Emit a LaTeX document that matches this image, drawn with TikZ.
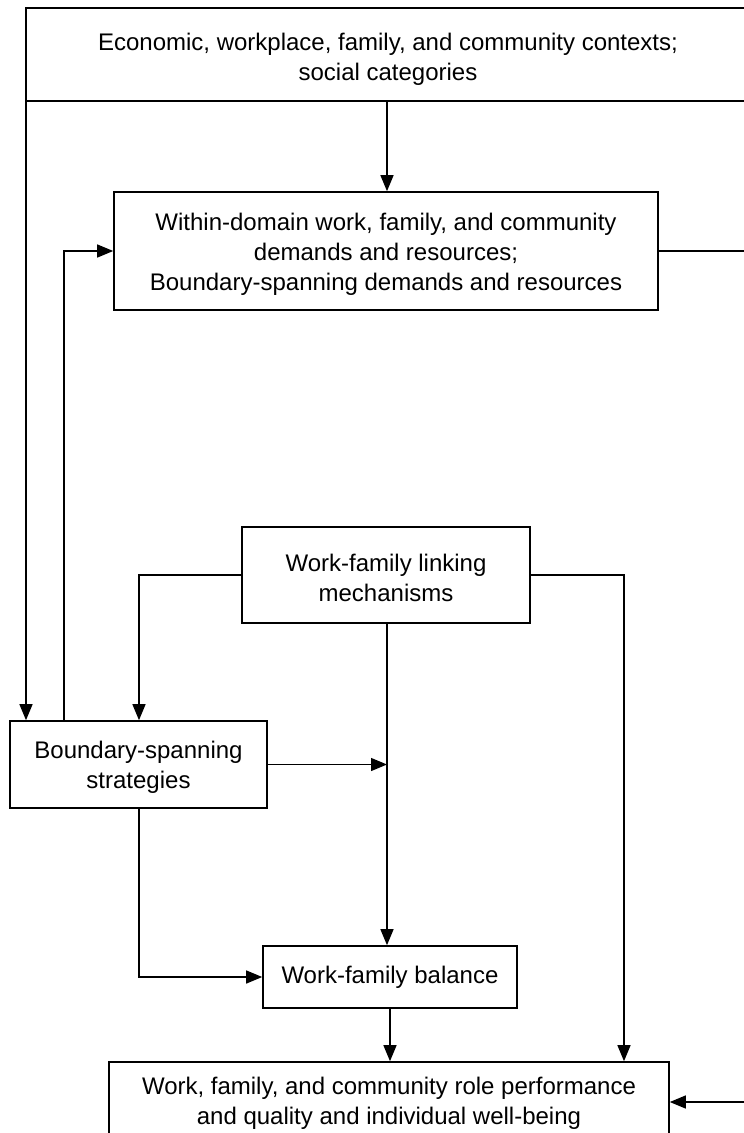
\documentclass[tikz,border=0pt]{standalone}
\usepackage{fontspec}
\setmainfont{Liberation Sans}
\usetikzlibrary{arrows.meta}
\begin{document}
\begin{tikzpicture}[x=1pt,y=-1pt,
  box/.style={draw, line width=1.6pt, align=center, inner sep=0pt,
    font=\fontsize{24}{30}\selectfont},
  boxtext/.style={align=center, inner sep=0pt, font=\fontsize{24}{30}\selectfont},
  link/.style={line width=1.3pt, -{Triangle[length=16pt,width=13pt]}}]
\useasboundingbox (0,0) rectangle (744,1133);
\clip (0,0) rectangle (744,1133);

% columns used by the connectors
\coordinate (cM) at (387,0);
\coordinate (cL) at (26,0);
\coordinate (cF) at (64,0);
\coordinate (cB) at (139,0);
\coordinate (cR) at (624,0);
\coordinate (cE) at (775,0);

% boxes and their texts
\node[box, minimum width=724pt, minimum height=93pt] (ctx) at (388,54.5) {};
\node[boxtext] (ctxtext) at (388,59)
  {Economic, workplace, family, and community contexts;\\social categories};
\node[box, minimum width=544pt, minimum height=118pt] (dem) at (386,251) {};
\node[boxtext] (demtext) at (386,254)
  {Within-domain work, family, and community\\demands and resources;\\Boundary-spanning demands and resources};
\node[box, minimum width=288pt, minimum height=96pt] (lnk) at (386,575) {};
\node[boxtext] (lnktext) at (386,578)
  {Work-family linking\\mechanisms};
\node[box, minimum width=257pt, minimum height=87pt] (bss) at (138.5,764.5) {};
\node[boxtext] (bsstext) at (138.5,767)
  {Boundary-spanning\\strategies};
\node[box, minimum width=254pt, minimum height=62pt] (bal) at (390,977)
  {Work-family balance};
\node[box, minimum width=560pt, minimum height=80pt] (out) at (389,1102) {};
\node[boxtext] (outtext) at (389,1103)
  {Work, family, and community role performance\\and quality and individual well-being};

% connectors
\draw[link] (ctx.south -| cM) -- (dem.north -| cM);
\draw[link] (ctx.south -| cL) -- (bss.north -| cL);
\draw[link] (bss.north -| cF) |- (dem.west);
\draw[link] (dem.east) -- (dem.east -| cE) |- (out.east);
\draw[link] (lnk.west) -| (bss.north -| cB);
\draw[link] (lnk.east) -| (out.north -| cR);
\draw[link] (lnk.south -| cM) -- (bal.north -| cM);
\coordinate (join) at (bss.east -| cM);
\draw[link] (bss.east) -- (join);
\draw[link] (bss.south -| cB) |- (bal.west);
\draw[link] (bal.south) -- (out.north -| bal.south);
\end{tikzpicture}
\end{document}
